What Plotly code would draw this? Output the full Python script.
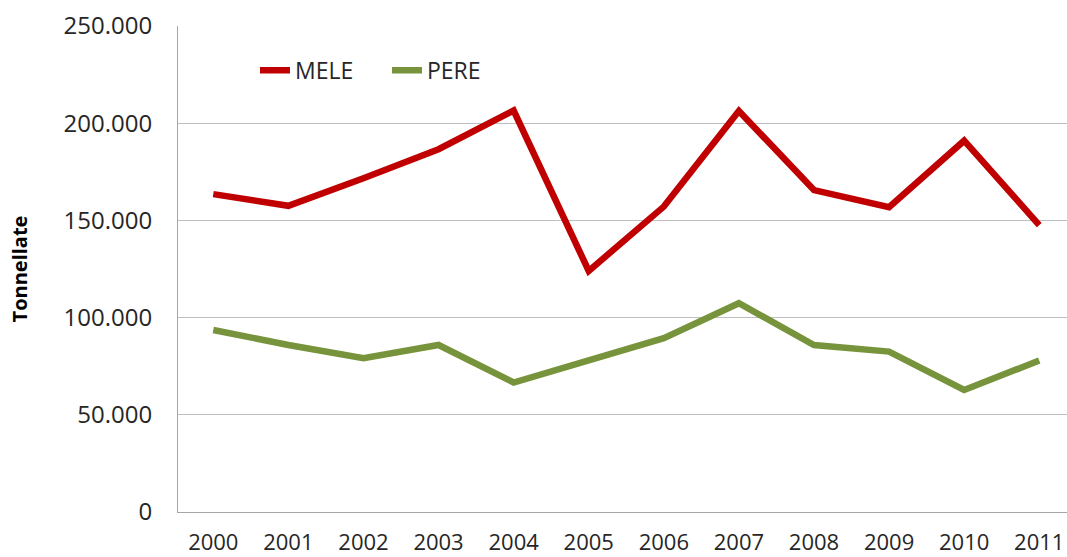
import plotly.graph_objects as go

years = ["2000", "2001", "2002", "2003", "2004", "2005", "2006", "2007", "2008", "2009", "2010", "2011"]
mele = [163500, 157500, 171700, 186600, 206500, 124000, 157100, 206300, 165600, 156800, 191000, 147600]
pere = [93600, 85900, 79100, 85900, 66600, 78400, 89400, 107400, 85900, 82500, 62800, 77900]
y_ticks = [0, 50000, 100000, 150000, 200000, 250000]

FONT = "Open Sans"

fig = go.Figure()
fig.add_trace(go.Scatter(x=years, y=mele, name="MELE", mode="lines",
                         line=dict(color="#c00000", width=6.5)))
fig.add_trace(go.Scatter(x=years, y=pere, name="PERE", mode="lines",
                         line=dict(color="#77933c", width=6.5)))

fig.update_layout(
    width=1067, height=557,
    margin=dict(l=178, r=0, t=26, b=45, autoexpand=False),
    paper_bgcolor="white", plot_bgcolor="white",
    separators=",.",
    font=dict(family=FONT, color="#262626"),
    showlegend=True,
    legend=dict(orientation="h", x=0.0866, y=0.909, xanchor="left", yanchor="middle",
                font=dict(size=23, family=FONT, color="#262626"),
                bgcolor="rgba(0,0,0,0)", entrywidth=87),
    xaxis=dict(type="category", categoryorder="array", categoryarray=years,
               range=[-0.47, 11.37], automargin=False,
               showgrid=False, showline=True, linecolor="#a6a6a6", linewidth=1,
               ticks="", tickfont=dict(size=22, family=FONT, color="#262626"),
               ticklabelstandoff=11),
    yaxis=dict(range=[0, 250000], tickvals=y_ticks, tickformat=",d", automargin=False,
               showgrid=True, gridcolor="#bfbfbf", gridwidth=1,
               showline=True, linecolor="#a6a6a6", linewidth=1,
               zeroline=False, ticks="",
               tickfont=dict(size=24, family=FONT, color="#262626"),
               ticklabelstandoff=20,
               title=dict(text="<b>Tonnellate</b>", font=dict(size=20, family=FONT, color="#000000"),
                          standoff=30)),
)

fig.write_html(
    "out.html",
    config={"displayModeBar": False},
    post_script="document.body.style.margin='0';document.body.style.overflow='hidden';",
)
